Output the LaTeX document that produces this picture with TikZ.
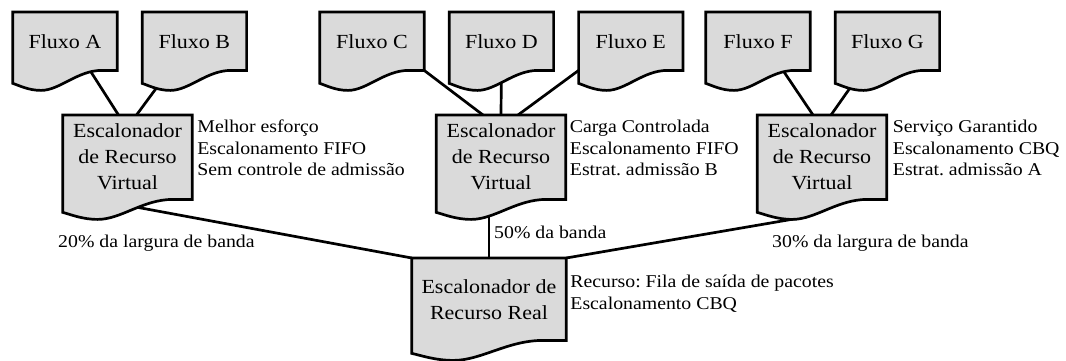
\documentclass[tikz,border=0pt]{standalone}
\usepackage{fontspec}
\setmainfont{Liberation Serif}[FakeStretch=1.1]
\usetikzlibrary{positioning,calc,backgrounds}
\frenchspacing

\definecolor{docgray}{RGB}{218,218,218}

\tikzset{
  doc/.style={inner sep=0pt, align=center, font=\fontsize{20}{26}\selectfont},
  fluxo/.style={doc, minimum width=104pt, minimum height=58pt, anchor=north},
  virt/.style={doc, minimum width=129pt, minimum height=84pt, anchor=north},
  docline/.style={line width=2.7pt, fill=docgray, line join=miter},
  link/.style={line width=2.7pt},
  note/.style={inner sep=0pt, align=left, font=\fontsize{18}{21.5}\selectfont},
}

\begin{document}
\begin{tikzpicture}[x=1pt, y=-1pt]
  \useasboundingbox (0,0) rectangle (1066,360);

  % fluxos
  \node[fluxo] (fa) at (65,12) {Fluxo A};
  \node[fluxo, right=25pt of fa] (fb) {Fluxo B};
  \node[fluxo] (fc) at (372,12) {Fluxo C};
  \node[fluxo, right=25pt of fc] (fd) {Fluxo D};
  \node[fluxo, right=25pt of fd] (fe) {Fluxo E};
  \node[fluxo] (ff) at (758,12) {Fluxo F};
  \node[fluxo, right=25pt of ff] (fg) {Fluxo G};

  % escalonadores virtuais e real
  \node[virt] (vs1) at (127.5,115) {Escalonador\\de Recurso\\Virtual};
  \node[virt] (vs2) at (501,115) {Escalonador\\de Recurso\\Virtual};
  \node[virt] (vs3) at (822,115) {Escalonador\\de Recurso\\Virtual};
  \node[doc, minimum width=154pt, minimum height=82pt, anchor=north] (real) at (489,258) {Escalonador de\\Recurso Real};

  % anotacoes
  \node[note, right=5pt of vs1.north east, anchor=north west, yshift=-5pt] (n1) {Melhor esforço\\Escalonamento FIFO\\Sem controle de admissão};
  \node[note, right=4pt of vs2.north east, anchor=north west, yshift=-5pt] (n2) {Carga Controlada\\Escalonamento FIFO\\Estrat. admissão B};
  \node[note, right=6pt of vs3.north east, anchor=north west, yshift=-5pt] (n3) {Serviço Garantido\\Escalonamento CBQ\\Estrat. admissão A};
  \node[note, right=4pt of real.north east, anchor=north west, yshift=-17pt] (n4) {Recurso: Fila de saída de pacotes\\Escalonamento CBQ};

  \node[note, anchor=west] (p1) at (58,243) {20\% da largura de banda};
  \node[note, anchor=west] (p2) at (494,232) {50\% da banda};
  \node[note, anchor=west] (p3) at (772,243) {30\% da largura de banda};

  \begin{scope}[on background layer]
    \draw[link] ([xshift=25pt]fa.south) -- ([xshift=-9pt]vs1.north);
    \draw[link] ([xshift=-25pt]fb.south) -- ([xshift=9pt]vs1.north);
    \draw[link] (fc.south east) -- ([xshift=-18pt]vs2.north);
    \draw[link] (fd.south) -- (vs2.north);
    \draw[link] (fe.south west) -- ([xshift=17pt]vs2.north);
    \draw[link] ([xshift=25pt]ff.south) -- ([xshift=-9pt]vs3.north);
    \draw[link] ([xshift=-25pt]fg.south) -- ([xshift=9pt]vs3.north);
    \draw[link] ([xshift=-33pt]vs1.south) -- (real.north west);
    \draw[link] (real.north |- vs2.south) -- (real.north);
    \draw[link] ([xshift=-13pt,yshift=-17pt]vs3.south) -- (real.north east);
    % contorno de documento
    \foreach \n in {fa,fb,fc,fd,fe,ff,fg,vs1,vs2,vs3,real}
      \filldraw[docline] (\n.north west) -- (\n.north east) -- (\n.south east)
        -- ($(\n.south west)!0.85!(\n.south east)$)
        .. controls ($(\n.south west)!0.62!(\n.south east)$) and ($(\n.south west)!0.45!(\n.south east)+(0,20)$)
        .. ($(\n.south west)!0.27!(\n.south east)+(0,20)$)
        .. controls ($(\n.south west)!0.15!(\n.south east)+(0,20)$) and ($(\n.south west)!0.06!(\n.south east)+(0,15)$)
        .. ($(\n.south west)+(0,13)$) -- cycle;
  \end{scope}
\end{tikzpicture}
\end{document}
